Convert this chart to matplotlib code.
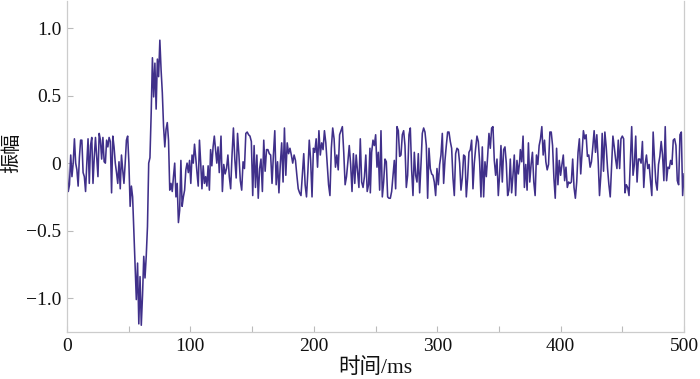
import numpy as np
import matplotlib
matplotlib.use("Agg")
import matplotlib.pyplot as plt
from matplotlib.ticker import MultipleLocator

plt.rcParams['font.family'] = ['Liberation Serif', 'Noto Sans CJK SC']
plt.rcParams['axes.unicode_minus'] = True

# 振幅读数（约 1 ms 一个采样点），分四段读取
amp_0_123 = [
    0.02, -0.21, -0.16, 0.06, -0.10, 0.00, 0.18, 0.00, -0.05, -0.17,
    0.04, 0.17, 0.17, -0.07, -0.10, -0.21, 0.00, 0.18, -0.15, 0.13,
    0.19, -0.15, 0.04, 0.19, 0.04, -0.10, 0.22, 0.17, 0.03, 0.19,
    0.01, 0.00, 0.17, 0.12, 0.19, 0.16, -0.22, 0.20, 0.12, 0.00,
    -0.07, -0.15, 0.01, -0.19, 0.06, -0.05, -0.15, 0.00, 0.17, 0.20,
    0.00, -0.32, -0.17, -0.25, -0.50, -0.74, -1.01, -0.74, -1.19, -0.84,
    -1.20, -0.98, -0.69, -0.85, -0.69, -0.47, 0.00, 0.04, 0.37, 0.78,
    0.49, 0.74, 0.40, 0.77, 0.64, 0.91, 0.69, 0.52, 0.27, 0.12,
    0.25, 0.30, 0.17, -0.20, -0.15, -0.21, -0.10, 0.00, -0.25, -0.15,
    -0.44, -0.35, 0.02, -0.32, -0.25, -0.20, -0.05, 0.00, -0.07, 0.02,
    -0.15, 0.06, 0.00, 0.14, 0.04, -0.07, -0.17, 0.17, 0.00, -0.19,
    -0.02, -0.15, -0.10, -0.17, -0.02, -0.20, 0.10, -0.02, 0.12, 0.20,
    0.10, 0.00, 0.12, -0.07,
]
amp_123_245 = [
    0.20, -0.21, -0.01, -0.08, -0.04, 0.06, -0.10, -0.19, 0.06, 0.26,
    0.03, -0.11, 0.22, 0.06, -0.13, -0.20, 0.01, -0.04, 0.22, 0.23,
    0.21, 0.20, 0.16, -0.24, 0.13, -0.18, 0.06, -0.26, -0.04, 0.03,
    -0.21, 0.17, -0.06, 0.10, 0.10, 0.07, 0.06, -0.15, 0.06, 0.24,
    -0.16, 0.01, -0.22, -0.01, 0.15, -0.14, 0.26, -0.09, 0.15, 0.07,
    0.11, 0.06, 0.00, 0.06, 0.02, -0.09, -0.19, -0.22, -0.24, -0.09,
    0.07, -0.16, -0.25, -0.06, 0.17, 0.02, -0.25, 0.11, 0.08, 0.18,
    -0.03, 0.24, 0.06, 0.15, 0.10, 0.24, 0.15, -0.01, -0.16, -0.24,
    0.11, 0.26, 0.18, -0.03, 0.06, -0.05, 0.21, 0.24, 0.27, 0.08,
    -0.16, -0.10, 0.01, 0.13, -0.01, -0.21, 0.07, -0.15, 0.06, -0.06,
    -0.18, 0.18, -0.14, -0.18, -0.10, 0.06, -0.21, -0.16, 0.11,
]
amp_245_367 = [
    -0.22, 0.08, 0.17, 0.13, 0.21, -0.03, 0.08, -0.20, 0.24, -0.25,
    -0.14, 0.03, 0.01, -0.25, -0.26, -0.26, -0.21, -0.09, 0.02, -0.19,
    0.27, 0.24, 0.05, 0.06, 0.21, 0.24, 0.13, -0.18, -0.09, 0.21,
    0.26, -0.05, -0.24, 0.08, -0.09, -0.14, 0.07, -0.22, -0.01, 0.22,
    0.26, 0.23, 0.13, -0.26, 0.11, -0.04, -0.08, -0.09, -0.14, -0.24,
    -0.04, -0.16, -0.01, 0.06, 0.22, -0.15, 0.02, 0.13, 0.23, 0.23,
    0.16, 0.11, -0.11, -0.24, 0.07, 0.11, 0.10, 0.00, -0.20, -0.11,
    0.06, 0.05, -0.25, -0.11, 0.08, 0.10, 0.17, -0.19, 0.00, 0.11,
    0.20, 0.16, 0.01, -0.25, 0.12, -0.25, 0.01, -0.10, 0.05, 0.22,
    0.11, 0.26, 0.27, 0.02, -0.09, 0.03, -0.24, -0.08, 0.13, -0.14,
    0.10, 0.12, 0.00, -0.24, -0.20, 0.03, -0.22, -0.09, 0.06, -0.24,
    0.02, -0.08, 0.01,
]
amp_367_500 = [
    0.10, 0.01, 0.20, -0.18, -0.01, -0.20, 0.15, -0.14, -0.01, 0.08,
    -0.14, -0.24, 0.06, -0.01, 0.13, 0.18, 0.27, 0.06, 0.17, 0.01,
    -0.05, -0.01, 0.23, 0.23, 0.13, -0.11, -0.26, 0.11, -0.16, 0.02,
    -0.09, -0.01, 0.06, -0.13, -0.03, -0.18, -0.14, -0.15, -0.14, 0.03,
    -0.18, -0.26, -0.14, 0.08, 0.18, -0.08, 0.08, 0.24, 0.18, 0.21,
    0.05, 0.06, -0.03, 0.01, 0.12, 0.24, 0.08, 0.21, 0.02, -0.24,
    -0.09, 0.22, -0.06, 0.23, 0.12, -0.04, -0.16, -0.25, -0.03, 0.20,
    0.12, 0.03, -0.04, 0.17, -0.04, 0.18, 0.20, 0.18, -0.22, -0.16,
    -0.18, -0.24, 0.01, 0.27, -0.09, -0.01, 0.20, -0.14, 0.03, 0.03,
    0.00, 0.16, -0.18, -0.01, 0.06, -0.04, -0.01, -0.13, -0.24, 0.23,
    0.03, -0.14, -0.20, -0.01, 0.05, 0.16, 0.06, -0.13, 0.27, -0.13,
    -0.03, -0.04, 0.02, -0.01, 0.17, 0.18, 0.13, -0.13, -0.16, 0.21,
    0.23, -0.24, -0.08,
]
# 每段的起止时间 (ms)
segment_times = [(0.0, 123.4), (124.8, 245.5), (245.8, 366.8), (367.4, 500.0)]

segments = [amp_0_123, amp_123_245, amp_245_367, amp_367_500]
t = np.concatenate([np.linspace(a, b, len(s)) for (a, b), s in zip(segment_times, segments)])
amp = np.concatenate([np.array(s) for s in segments])

x_ticks = [0, 100, 200, 300, 400, 500]
y_ticks = [-1.0, -0.5, 0, 0.5, 1.0]
y_tick_labels = ['\u22121.0', '\u22120.5', '0', '0.5', '1.0']

fig = plt.figure(figsize=(7, 3.79), dpi=100)
ax = fig.add_axes([67 / 700, 47 / 379, (684 - 67) / 700, (332 - 1) / 379])

ax.plot(t, amp, color='#40308a', linewidth=1.15)

ax.set_xlim(0, 500)
ax.set_ylim(-1.25, 1.2)
ax.set_xticks(x_ticks)
ax.xaxis.set_minor_locator(MultipleLocator(50))
ax.set_yticks(y_ticks)
ax.set_yticklabels(y_tick_labels)

for side in ['left', 'bottom', 'right']:
    ax.spines[side].set_color('#cccccc')
    ax.spines[side].set_linewidth(0.9)
ax.spines['top'].set_visible(False)

ax.tick_params(axis='both', which='both', direction='in', color='#bbbbbb',
               labelsize=14, labelcolor='#111111')
ax.tick_params(axis='both', which='major', length=4, width=0.8, pad=4)
ax.tick_params(axis='x', which='minor', length=4, width=0.8)

ax.set_xlabel('时间/ms', fontsize=15.5, color='#111111')
ax.set_ylabel('振幅', fontsize=14.5, color='#111111')
ax.xaxis.set_label_coords(0.5, -0.08)
ax.yaxis.set_label_coords(-0.072, 0.54)

fig.savefig('out.png', dpi=100)
